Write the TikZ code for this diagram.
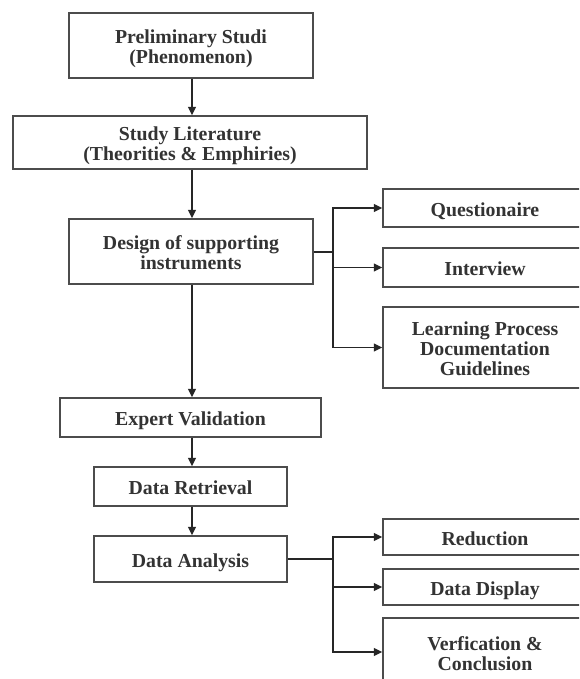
\documentclass[tikz,border=0pt]{standalone}
\usepackage{fontspec}
\setmainfont{Liberation Serif}
\usetikzlibrary{arrows.meta}
\newcommand\boxtext[1]{\raisebox{-4pt}[\height][\depth]{\begin{tabular}{@{}c@{}}#1\end{tabular}}}
\begin{document}
\begin{tikzpicture}[x=1pt,y=-1pt,
  box/.style={draw=black!70, line width=1.4pt, rectangle, inner sep=0pt,
    font=\fontsize{19.8}{20}\selectfont\bfseries, text=black!80},
  arr/.style={draw=black!85, line width=1.4pt, -{Triangle[length=8.5pt,width=8pt]}},
  ln/.style={draw=black!85, line width=1.4pt}]
\clip (0,0) rectangle (579,679);
\fill[white] (0,0) rectangle (579,679);
% main column
\node[box, minimum width=244pt, minimum height=65pt] (b1) at (191,45.5) {\boxtext{Preliminary Studi\\(Phenomenon)}};
\node[box, minimum width=354pt, minimum height=53pt] (b2) at (190,142.5) {\boxtext{Study Literature\\(Theorities \& Emphiries)}};
\node[box, minimum width=244pt, minimum height=65pt] (b3) at (191,251.5) {\boxtext{Design of supporting\\instruments}};
\node[box, minimum width=261pt, minimum height=39pt] (ev) at (190.5,417.5) {\boxtext{Expert Validation}};
\node[box, minimum width=193pt, minimum height=39pt] (dr) at (190.5,486.5) {\boxtext{Data Retrieval}};
\node[box, minimum width=193pt, minimum height=46pt] (da) at (190.5,559) {\boxtext{Data Analysis}};
% right column
\node[box, minimum width=204pt, minimum height=38pt] (q) at (485,208) {\boxtext{Questionaire}};
\node[box, minimum width=204pt, minimum height=39pt] (iv) at (485,267.5) {\boxtext{Interview}};
\node[box, minimum width=204pt, minimum height=81pt] (lp) at (485,347.5) {\boxtext{Learning Process\\Documentation\\Guidelines}};
\node[box, minimum width=204pt, minimum height=36pt] (red) at (485,537) {\boxtext{Reduction}};
\node[box, minimum width=204pt, minimum height=36pt] (dd) at (485,587) {\boxtext{Data Display}};
\node[box, minimum width=204pt, minimum height=68pt] (vc) at (485,652) {\boxtext{Verfication \&\\Conclusion}};
% junctions
\coordinate (j1) at (333,252);
\coordinate (j2) at (333,559);
% vertical arrows
\coordinate (ax) at (192,0);
\draw[arr] (ax |- b1.south) -- (ax |- b2.north);
\draw[arr] (ax |- b2.south) -- (ax |- b3.north);
\draw[arr] (ax |- b3.south) -- (ax |- ev.north);
\draw[arr] (ax |- ev.south) -- (ax |- dr.north);
\draw[arr] (ax |- dr.south) -- (ax |- da.north);
% branches
\draw[ln] (b3.east |- j1) -- (j1);
\draw[arr] (j1) |- (q.west);
\draw[arr] (j1) |- (iv.west);
\draw[arr] (j1) |- (lp.west);
\draw[ln] (da.east |- j2) -- (j2);
\draw[arr] (j2) |- (red.west);
\draw[arr] (j2) |- (dd.west);
\draw[arr] (j2) |- (vc.west);
\end{tikzpicture}
\end{document}
